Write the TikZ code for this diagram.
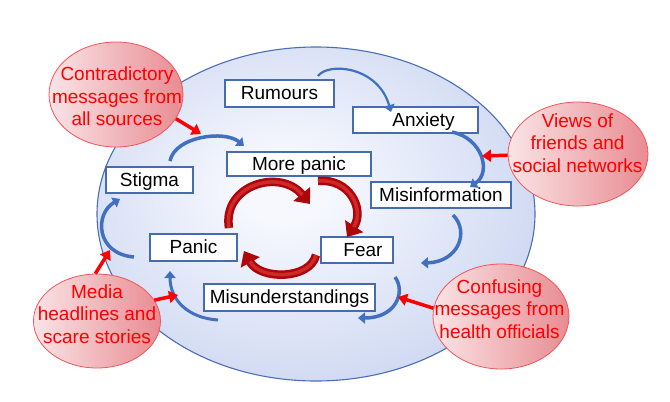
\documentclass[tikz,border=0pt]{standalone}
\usepackage{fontspec}
\setmainfont{Liberation Sans}
\usetikzlibrary{arrows.meta,shapes.geometric}
\definecolor{bgedge}{RGB}{180,195,234}
\definecolor{bgcenter}{RGB}{246,248,254}
\definecolor{bgline}{RGB}{75,110,180}
\definecolor{boxline}{RGB}{70,108,176}
\definecolor{arcblue}{RGB}{66,112,192}
\definecolor{cycred}{RGB}{172,6,10}
\definecolor{cychi}{RGB}{208,40,40}
\definecolor{srcleft}{RGB}{250,228,230}
\definecolor{srcright}{RGB}{232,140,146}
\definecolor{srcline}{RGB}{240,85,90}
\definecolor{feedred}{RGB}{255,0,0}
\pgfdeclareradialshading{bgshade}{\pgfpoint{-4bp}{4bp}}{color(0bp)=(bgcenter); color(5bp)=(bgcenter); color(46bp)=(bgedge); color(75bp)=(bgedge)}
\begin{document}
\begin{tikzpicture}[x=1pt,y=-1pt,
  bgell/.style={ellipse, draw=bgline, line width=1.1pt, shade, shading=bgshade, minimum width=438pt, minimum height=334pt, inner sep=0pt},
  box/.style={draw=boxline, fill=white, line width=1.3pt, inner sep=0pt, text height=13.6pt, text depth=1pt, font=\fontsize{19pt}{22.5pt}\selectfont},
  srcell/.style={ellipse, draw=srcline, line width=0.8pt, left color=srcleft, right color=srcright, inner sep=0pt},
  srctext/.style={text=feedred, align=center, inner sep=0pt, font=\fontsize{19pt}{22.5pt}\selectfont},
  feed/.style={draw=feedred, line width=3.5pt, -{Triangle[length=9pt,width=12pt]}},
  arc/.style={draw=arcblue, line width=3.5pt, -{Triangle[length=7pt,width=11pt]}},
  thinarc/.style={arc, line width=2.2pt},
  cyc/.style={draw=cycred, line width=8.5pt, -{Triangle[length=13pt,width=21pt]},
    postaction={draw=cychi, line width=3.5pt, shorten >=12pt, -}}
]
\useasboundingbox (0,0) rectangle (670,402);
% background ellipse
\node[bgell] (bg) at (316,214) {};

% boxes
\node[box, minimum width=109pt, minimum height=27pt] (rum) at (279.5,93.5) {Rumours};
\node[box, minimum width=125pt, minimum height=26pt] (anx) at (415.5,120) {\hspace*{16pt}Anxiety};
\node[box, minimum width=144pt, minimum height=24pt] (more) at (299,164) {More panic};
\node[box, minimum width=87pt, minimum height=26pt] (stig) at (149.5,180) {Stigma};
\node[box, minimum width=140pt, minimum height=26pt] (misi) at (441,195) {Misinformation};
\node[box, minimum width=87pt, minimum height=27pt] (pan) at (193.5,247.5) {Panic};
\node[box, minimum width=72pt, minimum height=26pt] (fear) at (357,250) {\hspace*{12pt}Fear};
\node[box, minimum width=171pt, minimum height=27pt] (misu) at (289.5,297.5) {Misunderstandings};

% blue curved arrows (outer cycle)
\coordinate (a1s) at (318,76);  \coordinate (a1e) at (391,112);
\coordinate (a2s) at (452,132); \coordinate (a2e) at (470,187);
\coordinate (a3s) at (453,215); \coordinate (a3e) at (421,263);
\coordinate (a4s) at (395,277); \coordinate (a4e) at (358,318);
\coordinate (a5s) at (218,320); \coordinate (a5e) at (170,271);
\coordinate (a6s) at (134,257); \coordinate (a6e) at (120,199);
\coordinate (a7s) at (170,161); \coordinate (a7e) at (244,146);
\draw[thinarc] (a1s) .. controls (328,62) and (378,66) .. (a1e);
\draw[arc] (a2s) .. controls (482,138) and (492,172) .. (a2e);
\draw[arc] (a3s) .. controls (470,232) and (458,262) .. (a3e);
\draw[arc] (a4s) .. controls (406,292) and (396,318) .. (a4e);
\draw[arc, line width=3pt] (a5s) .. controls (188,318) and (170,300) .. (a5e);
\draw[arc] (a6s) .. controls (96,254) and (94,214) .. (a6e);
\draw[arc] (a7s) .. controls (175,136) and (225,130) .. (a7e);

% red inner cycle
\coordinate (r1s) at (229,228); \coordinate (r1e) at (310,204);
\coordinate (r2s) at (318,181); \coordinate (r2e) at (347,237);
\coordinate (r3s) at (316,255); \coordinate (r3e) at (244,251);
\draw[cyc] (r1s) .. controls (222,185) and (280,168) .. (r1e);
\draw[cyc] (r2s) .. controls (350,178) and (365,210) .. (r2e);
\draw[cyc] (r3s) .. controls (310,280) and (260,280) .. (r3e);

% source ellipses
\node[srcell, minimum width=134pt, minimum height=105pt] (contra) at (116,94.5) {};
\node[srctext] (contrat) at (117,96.5) {Contradictory\\messages from\\all sources};
\node[srcell, minimum width=140pt, minimum height=104pt] (views) at (578,154) {};
\node[srctext] (viewst) at (577.5,143) {Views of\\friends and\\social networks};
\node[srcell, minimum width=127pt, minimum height=94pt] (media) at (97,321) {};
\node[srctext] (mediat) at (97,314) {Media\\headlines and\\scare stories};
\node[srcell, minimum width=136pt, minimum height=105pt] (conf) at (501,316.5) {};
\node[srctext] (conft) at (499.5,309) {Confusing\\messages from\\health officials};

% feed arrows
\coordinate (f1e) at (201,134);
\coordinate (f2e) at (482,156);
\coordinate (f3e) at (110,250);
\coordinate (f4e) at (178,295);
\coordinate (f5e) at (398,297);
\draw[feed] (contra.-22) -- (f1e);
\draw[feed] (views.181) -- (f2e);
\draw[feed] (media.92) -- (f3e);
\draw[feed] (media.20) -- (f4e);
\draw[feed] (conf.173) -- (f5e);
\end{tikzpicture}
\end{document}
